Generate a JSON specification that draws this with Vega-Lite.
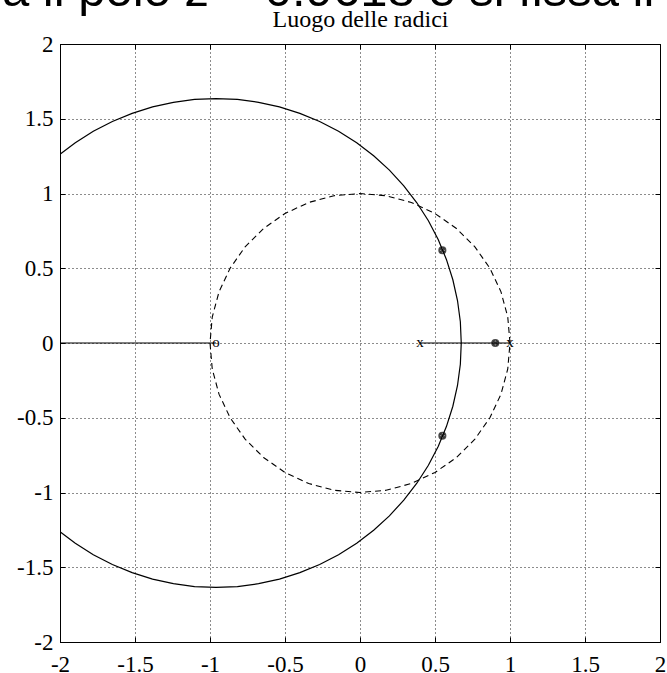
{
  "$schema": "https://vega.github.io/schema/vega-lite/v6.json",
  "autosize": {"type": "none"},
  "width": 600,
  "height": 598,
  "padding": {"left": 60, "top": 44, "right": 7, "bottom": 31},
  "background": "white",
  "title": {"text": "a il polo z = 0.9618 e si fissa il polo", "font": "Liberation Sans", "fontSize": 49, "fontWeight": "normal", "color": "black", "anchor": "start", "frame": "group", "dx": -58, "dy": 47, "baseline": "alphabetic", "offset": 0},
  "config": {
    "view": {"stroke": "black", "strokeWidth": 1},
    "axis": {"labelFont": "Liberation Serif", "labelFontSize": 23, "labelColor": "black", "domainColor": "black", "tickColor": "black", "gridColor": "black", "gridDash": [1, 3], "gridOpacity": 0.9}
  },
  "datasets": {
    "locus": [
      {"part": "upper", "i": 0, "x": 0.675, "y": 0},
      {"part": "upper", "i": 1, "x": 0.669, "y": 0.1425},
      {"part": "upper", "i": 2, "x": 0.650, "y": 0.284},
      {"part": "upper", "i": 3, "x": 0.619, "y": 0.423},
      {"part": "upper", "i": 4, "x": 0.576, "y": 0.559},
      {"part": "upper", "i": 5, "x": 0.522, "y": 0.691},
      {"part": "upper", "i": 6, "x": 0.456, "y": 0.818},
      {"part": "upper", "i": 7, "x": 0.379, "y": 0.938},
      {"part": "upper", "i": 8, "x": 0.292, "y": 1.051},
      {"part": "upper", "i": 9, "x": 0.196, "y": 1.156},
      {"part": "upper", "i": 10, "x": 0.091, "y": 1.252},
      {"part": "upper", "i": 11, "x": -0.022, "y": 1.339},
      {"part": "upper", "i": 12, "x": -0.143, "y": 1.416},
      {"part": "upper", "i": 13, "x": -0.269, "y": 1.482},
      {"part": "upper", "i": 14, "x": -0.401, "y": 1.536},
      {"part": "upper", "i": 15, "x": -0.537, "y": 1.579},
      {"part": "upper", "i": 16, "x": -0.676, "y": 1.610},
      {"part": "upper", "i": 17, "x": -0.817, "y": 1.629},
      {"part": "upper", "i": 18, "x": -0.960, "y": 1.635},
      {"part": "upper", "i": 19, "x": -1.103, "y": 1.629},
      {"part": "upper", "i": 20, "x": -1.244, "y": 1.610},
      {"part": "upper", "i": 21, "x": -1.383, "y": 1.579},
      {"part": "upper", "i": 22, "x": -1.519, "y": 1.536},
      {"part": "upper", "i": 23, "x": -1.651, "y": 1.482},
      {"part": "upper", "i": 24, "x": -1.778, "y": 1.416},
      {"part": "upper", "i": 25, "x": -1.898, "y": 1.339},
      {"part": "upper", "i": 26, "x": -2.0, "y": 1.262},
      {"part": "lower", "i": 0, "x": 0.675, "y": 0},
      {"part": "lower", "i": 1, "x": 0.669, "y": -0.1425},
      {"part": "lower", "i": 2, "x": 0.650, "y": -0.284},
      {"part": "lower", "i": 3, "x": 0.619, "y": -0.423},
      {"part": "lower", "i": 4, "x": 0.576, "y": -0.559},
      {"part": "lower", "i": 5, "x": 0.522, "y": -0.691},
      {"part": "lower", "i": 6, "x": 0.456, "y": -0.818},
      {"part": "lower", "i": 7, "x": 0.379, "y": -0.938},
      {"part": "lower", "i": 8, "x": 0.292, "y": -1.051},
      {"part": "lower", "i": 9, "x": 0.196, "y": -1.156},
      {"part": "lower", "i": 10, "x": 0.091, "y": -1.252},
      {"part": "lower", "i": 11, "x": -0.022, "y": -1.339},
      {"part": "lower", "i": 12, "x": -0.143, "y": -1.416},
      {"part": "lower", "i": 13, "x": -0.269, "y": -1.482},
      {"part": "lower", "i": 14, "x": -0.401, "y": -1.536},
      {"part": "lower", "i": 15, "x": -0.537, "y": -1.579},
      {"part": "lower", "i": 16, "x": -0.676, "y": -1.610},
      {"part": "lower", "i": 17, "x": -0.817, "y": -1.629},
      {"part": "lower", "i": 18, "x": -0.960, "y": -1.635},
      {"part": "lower", "i": 19, "x": -1.103, "y": -1.629},
      {"part": "lower", "i": 20, "x": -1.244, "y": -1.610},
      {"part": "lower", "i": 21, "x": -1.383, "y": -1.579},
      {"part": "lower", "i": 22, "x": -1.519, "y": -1.536},
      {"part": "lower", "i": 23, "x": -1.651, "y": -1.482},
      {"part": "lower", "i": 24, "x": -1.778, "y": -1.416},
      {"part": "lower", "i": 25, "x": -1.898, "y": -1.339},
      {"part": "lower", "i": 26, "x": -2.0, "y": -1.262},
      {"part": "left", "i": 0, "x": -2.0, "y": 0},
      {"part": "left", "i": 1, "x": -0.96, "y": 0},
      {"part": "right", "i": 0, "x": 0.4, "y": 0},
      {"part": "right", "i": 1, "x": 1.0, "y": 0}
    ],
    "unit": [
      {"i": 0, "x": 1.0, "y": 0.0},
      {"i": 1, "x": 0.985, "y": 0.174},
      {"i": 2, "x": 0.940, "y": 0.342},
      {"i": 3, "x": 0.866, "y": 0.5},
      {"i": 4, "x": 0.766, "y": 0.643},
      {"i": 5, "x": 0.643, "y": 0.766},
      {"i": 6, "x": 0.5, "y": 0.866},
      {"i": 7, "x": 0.342, "y": 0.940},
      {"i": 8, "x": 0.174, "y": 0.985},
      {"i": 9, "x": 0.0, "y": 1.0},
      {"i": 10, "x": -0.174, "y": 0.985},
      {"i": 11, "x": -0.342, "y": 0.940},
      {"i": 12, "x": -0.5, "y": 0.866},
      {"i": 13, "x": -0.643, "y": 0.766},
      {"i": 14, "x": -0.766, "y": 0.643},
      {"i": 15, "x": -0.866, "y": 0.5},
      {"i": 16, "x": -0.940, "y": 0.342},
      {"i": 17, "x": -0.985, "y": 0.174},
      {"i": 18, "x": -1.0, "y": 0.0},
      {"i": 19, "x": -0.985, "y": -0.174},
      {"i": 20, "x": -0.940, "y": -0.342},
      {"i": 21, "x": -0.866, "y": -0.5},
      {"i": 22, "x": -0.766, "y": -0.643},
      {"i": 23, "x": -0.643, "y": -0.766},
      {"i": 24, "x": -0.5, "y": -0.866},
      {"i": 25, "x": -0.342, "y": -0.940},
      {"i": 26, "x": -0.174, "y": -0.985},
      {"i": 27, "x": 0.0, "y": -1.0},
      {"i": 28, "x": 0.174, "y": -0.985},
      {"i": 29, "x": 0.342, "y": -0.940},
      {"i": 30, "x": 0.5, "y": -0.866},
      {"i": 31, "x": 0.643, "y": -0.766},
      {"i": 32, "x": 0.766, "y": -0.643},
      {"i": 33, "x": 0.866, "y": -0.5},
      {"i": 34, "x": 0.940, "y": -0.342},
      {"i": 35, "x": 0.985, "y": -0.174},
      {"i": 36, "x": 1.0, "y": 0.0}
    ],
    "marks": [
      {"t": "x", "x": 0.4, "y": 0},
      {"t": "x", "x": 1.0, "y": 0},
      {"t": "o", "x": -0.96, "y": 0}
    ],
    "cl": [
      {"x": 0.549, "y": 0.62},
      {"x": 0.549, "y": -0.62},
      {"x": 0.902, "y": 0}
    ]
  },
  "resolve": {"axis": {"x": "independent", "y": "independent"}},
  "layer": [
    {
      "data": {"name": "locus"},
      "mark": {"type": "line", "color": "black", "strokeWidth": 1.2, "clip": true},
      "encoding": {
        "x": {"field": "x", "type": "quantitative", "scale": {"domain": [-2, 2], "nice": false, "zero": false},
              "axis": {"orient": "bottom", "title": null, "values": [-2, -1.5, -1, -0.5, 0, 0.5, 1, 1.5, 2], "grid": true, "tickSize": -5, "labelPadding": 16, "labelFlush": false, "labelExpr": "datum.value < 0 ? '-' + format(-datum.value, '') : format(datum.value, '')"}},
        "y": {"field": "y", "type": "quantitative", "scale": {"domain": [-2, 2], "nice": false, "zero": false},
              "axis": {"orient": "left", "title": null, "values": [-2, -1.5, -1, -0.5, 0, 0.5, 1, 1.5, 2], "grid": true, "tickSize": -5, "labelPadding": 12, "labelFlush": false, "labelExpr": "datum.value < 0 ? '-' + format(-datum.value, '') : format(datum.value, '')"}},
        "detail": {"field": "part"},
        "order": {"field": "i", "type": "quantitative"}
      }
    },
    {
      "data": {"name": "unit"},
      "mark": {"type": "line", "color": "black", "strokeWidth": 1.1, "strokeDash": [6, 4]},
      "encoding": {
        "x": {"field": "x", "type": "quantitative", "axis": {"orient": "top", "title": "Luogo delle radici", "titleFont": "Liberation Serif", "titleFontSize": 24, "titleFontWeight": "normal", "titleColor": "black", "titlePadding": 12, "values": [-2, -1.5, -1, -0.5, 0, 0.5, 1, 1.5, 2], "grid": false, "labels": false, "tickSize": -5, "domain": false}},
        "y": {"field": "y", "type": "quantitative", "axis": {"orient": "right", "title": null, "values": [-2, -1.5, -1, -0.5, 0, 0.5, 1, 1.5, 2], "grid": false, "labels": false, "tickSize": -5, "domain": false}},
        "order": {"field": "i", "type": "quantitative"}
      }
    },
    {
      "data": {"name": "marks"},
      "mark": {"type": "text", "font": "Liberation Serif", "fontSize": 15, "color": "black", "baseline": "middle", "align": "center", "dy": -1},
      "encoding": {
        "x": {"field": "x", "type": "quantitative", "axis": null},
        "y": {"field": "y", "type": "quantitative", "axis": null},
        "text": {"field": "t"}
      }
    },
    {
      "data": {"name": "cl"},
      "mark": {"type": "point", "shape": "circle", "size": 40, "filled": false, "stroke": "black", "strokeWidth": 1.8},
      "encoding": {
        "x": {"field": "x", "type": "quantitative", "axis": null},
        "y": {"field": "y", "type": "quantitative", "axis": null}
      }
    },
    {
      "data": {"name": "cl"},
      "mark": {"type": "point", "shape": "cross", "angle": 45, "size": 30, "filled": true, "color": "black"},
      "encoding": {
        "x": {"field": "x", "type": "quantitative", "axis": null},
        "y": {"field": "y", "type": "quantitative", "axis": null}
      }
    }
  ]
}
